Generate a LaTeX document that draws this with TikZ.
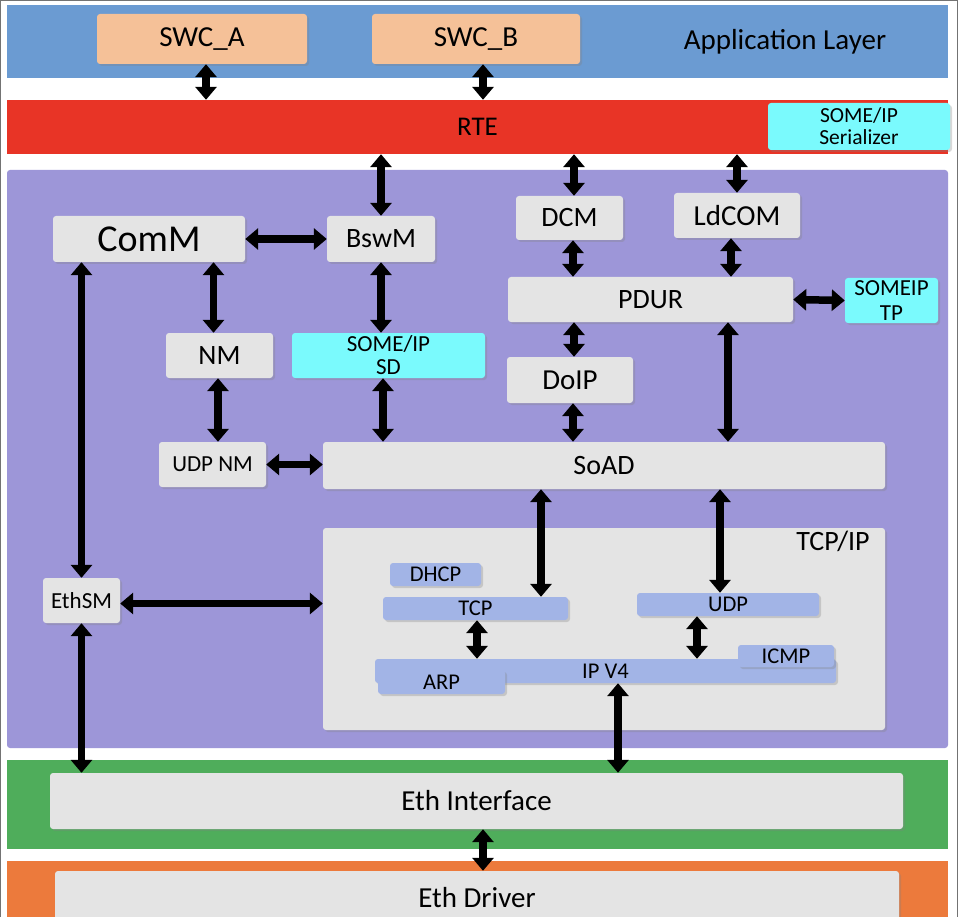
\documentclass[tikz,border=0pt]{standalone}
\usepackage{fontspec}
\setmainfont{Carlito}
\usetikzlibrary{arrows.meta,shadows}
\definecolor{applblue}{RGB}{107,155,210}
\definecolor{swcpeach}{RGB}{245,193,152}
\definecolor{rtered}{RGB}{232,52,38}
\definecolor{someipcyan}{RGB}{122,250,253}
\definecolor{bswpurple}{RGB}{157,150,216}
\definecolor{boxgray}{RGB}{228,228,228}
\definecolor{protoblue}{RGB}{162,180,230}
\definecolor{ifgreen}{RGB}{79,173,91}
\definecolor{drvorange}{RGB}{236,122,60}
\newcommand\fsz[1]{\fontsize{#1}{#1}\selectfont}
\begin{document}
\begin{tikzpicture}[x=1pt,y=-1pt,
  layer/.style={fill=#1, minimum width=941pt, inner sep=0pt},
  sz/.style 2 args={minimum width=#1pt, minimum height=#2pt},
  box/.style={rounded corners=3pt, fill=#1, inner sep=0pt, align=center,
    drop shadow={shadow xshift=2pt, shadow yshift=-2pt, opacity=0.3}},
  box/.default=boxgray,
  proto/.style={box=protoblue, font=\fsz{22.5}},
  link/.style={{Triangle[width=21pt,length=13pt]}-{Triangle[width=21pt,length=13pt]}, line width=7.5pt}]

  \useasboundingbox (0,0) rectangle (958,917);
  \clip (0,0) rectangle (958,917);
  \fill[white] (0,0) rectangle (958,917);
  \draw[black!55, line width=1pt] (0.5,917) -- (0.5,0.5) -- (957.5,0.5) -- (957.5,917);

  \node[layer=applblue, minimum height=73pt] (app) at (477.5,41.5) {};
  \node[box=swcpeach, sz={210}{50}, font=\fsz{29}] (swcA) at (202,39) {SWC\_A};
  \node[box=swcpeach, sz={208}{50}, font=\fsz{29}] (swcB) at (476,39) {SWC\_B};
  \node[font=\fsz{29}] (applbl) at (785,42) {Application Layer};

  \node[layer=rtered, minimum height=54pt, font=\fsz{27}] (rte) at (477.5,127) {RTE};
  \node[box=someipcyan, sz={182}{47}, font=\fontsize{21.5}{22}\selectfont] (ser) at (859,126.5) {SOME/IP\\Serializer};

  \node[layer=bswpurple, minimum height=578pt, rounded corners=3pt] (bsw) at (477.5,459) {};
  \node[box, sz={192}{46}, font=\fsz{38}] (comm) at (149,239) {ComM};
  \node[box, sz={108}{46}, font=\fsz{28}] (bswm) at (381,239) {BswM};
  \node[box, sz={107}{44}, font=\fsz{28}] (dcm) at (569.5,218) {DCM};
  \node[box, sz={126}{45}, font=\fsz{29}] (ldcom) at (737,215.5) {LdCOM};
  \node[box, sz={285}{45}, font=\fsz{28}] (pdur) at (650.5,299.5) {PDUR};
  \node[box=someipcyan, sz={93}{45}, font=\fontsize{23}{25}\selectfont] (sometp) at (891.5,300.5) {SOMEIP\\TP};
  \node[box, sz={107}{45}, font=\fsz{28}] (nm) at (219.5,355.5) {NM};
  \node[box=someipcyan, sz={193}{45}, font=\fontsize{23}{23}\selectfont] (sd) at (388.5,355.5) {SOME/IP\\SD};
  \node[box, sz={126}{46}, font=\fsz{29}] (doip) at (570,380) {DoIP};
  \node[box, sz={107}{45}, font=\fsz{23}] (udpnm) at (212.5,464.5) {UDP NM};
  \node[box, sz={562}{47}, font=\fsz{28}] (soad) at (604,465.5) {SoAD};
  \node[box, sz={77}{45}, font=\fsz{23}] (ethsm) at (81.5,600.5) {EthSM};

  \node[box, sz={562}{202}] (tcpip) at (604,629) {};
  \node[font=\fsz{28}] (tcpiplbl) at (833,541) {TCP/IP};
  \node[proto, sz={91}{23}] (dhcp) at (435.5,574.5) {DHCP};
  \node[proto, sz={185}{23}] (tcp) at (475.5,608.5) {TCP};
  \node[proto, sz={182}{23}] (udp) at (728,604.5) {UDP};
  \node[proto, sz={461}{24}] (ipv4) at (605.5,671) {IP V4};
  \node[proto, sz={127}{24}] (arp) at (441.5,682) {ARP};
  \node[proto, sz={96}{22}] (icmp) at (786,656) {ICMP};

  \node[layer=ifgreen, minimum height=89pt] (ifl) at (477.5,804.5) {};
  \node[box, sz={853}{56}, font=\fsz{29}] (ethif) at (476.5,801) {Eth Interface};
  \node[layer=drvorange, minimum height=70pt] (drvl) at (477.5,896) {};
  \node[box, sz={844}{54}, font=\fsz{29}] (ethdrv) at (477,898) {Eth Driver};

  \draw[link] ([xshift=4pt]swcA.south) -- ([xshift=4pt]swcA.south |- rte.north);
  \draw[link] ([xshift=7pt]swcB.south) -- ([xshift=7pt]swcB.south |- rte.north);
  \draw[link] (rte.south -| bswm.north) -- (bswm.north);
  \draw[link] ([xshift=4.5pt]dcm.north |- rte.south) -- ([xshift=4.5pt]dcm.north);
  \draw[link] (ldcom.north |- rte.south) -- (ldcom.north);
  \draw[link] (comm.east) -- (bswm.west);
  \draw[link] ([xshift=3.5pt]dcm.south) -- ([xshift=3.5pt]dcm.south |- pdur.north);
  \draw[link] ([xshift=-6pt]ldcom.south) -- ([xshift=-6pt]ldcom.south |- pdur.north);
  \draw[link] (pdur.east) -- (sometp.west);
  \draw[link] ([xshift=-6pt]nm.north |- comm.south) -- ([xshift=-6pt]nm.north);
  \draw[link] (bswm.south) -- (bswm.south |- sd.north);
  \draw[link] ([xshift=4pt]doip.north |- pdur.south) -- ([xshift=4pt]doip.north);
  \draw[link] ([xshift=77.5pt]pdur.south) -- ([xshift=77.5pt]pdur.south |- soad.north);
  \draw[link] ([xshift=-1.5pt]nm.south) -- ([xshift=-1.5pt]nm.south |- udpnm.north);
  \draw[link] ([xshift=-5.5pt]sd.south) -- ([xshift=-5.5pt]sd.south |- soad.north);
  \draw[link] ([xshift=3pt]doip.south) -- ([xshift=3pt]doip.south |- soad.north);
  \draw[link] (udpnm.east) -- (udpnm.east -| soad.west);
  \draw[link] ([xshift=65.5pt]tcp.north |- soad.south) -- ([xshift=65.5pt]tcp.north);
  \draw[link] ([xshift=-8pt]udp.north |- soad.south) -- ([xshift=-8pt]udp.north);
  \draw[link] ([xshift=1.5pt]tcp.south) -- ([xshift=1.5pt]tcp.south |- ipv4.north);
  \draw[link] ([xshift=-31pt]udp.south) -- ([xshift=-31pt]udp.south |- ipv4.north);
  \draw[link] (ethsm.north |- comm.south) -- (ethsm.north);
  \draw[link] ([yshift=-3pt]ethsm.east) -- ([yshift=-3pt]ethsm.east -| tcpip.west);
  \draw[link] (ethsm.south) -- (ethsm.south |- ethif.north);
  \draw[link] ([xshift=12.5pt]ipv4.south) -- ([xshift=12.5pt]ipv4.south |- ethif.north);
  \draw[link] ([xshift=6.5pt]ethif.south) -- ([xshift=6.5pt]ethif.south |- ethdrv.north);
\end{tikzpicture}
\end{document}
